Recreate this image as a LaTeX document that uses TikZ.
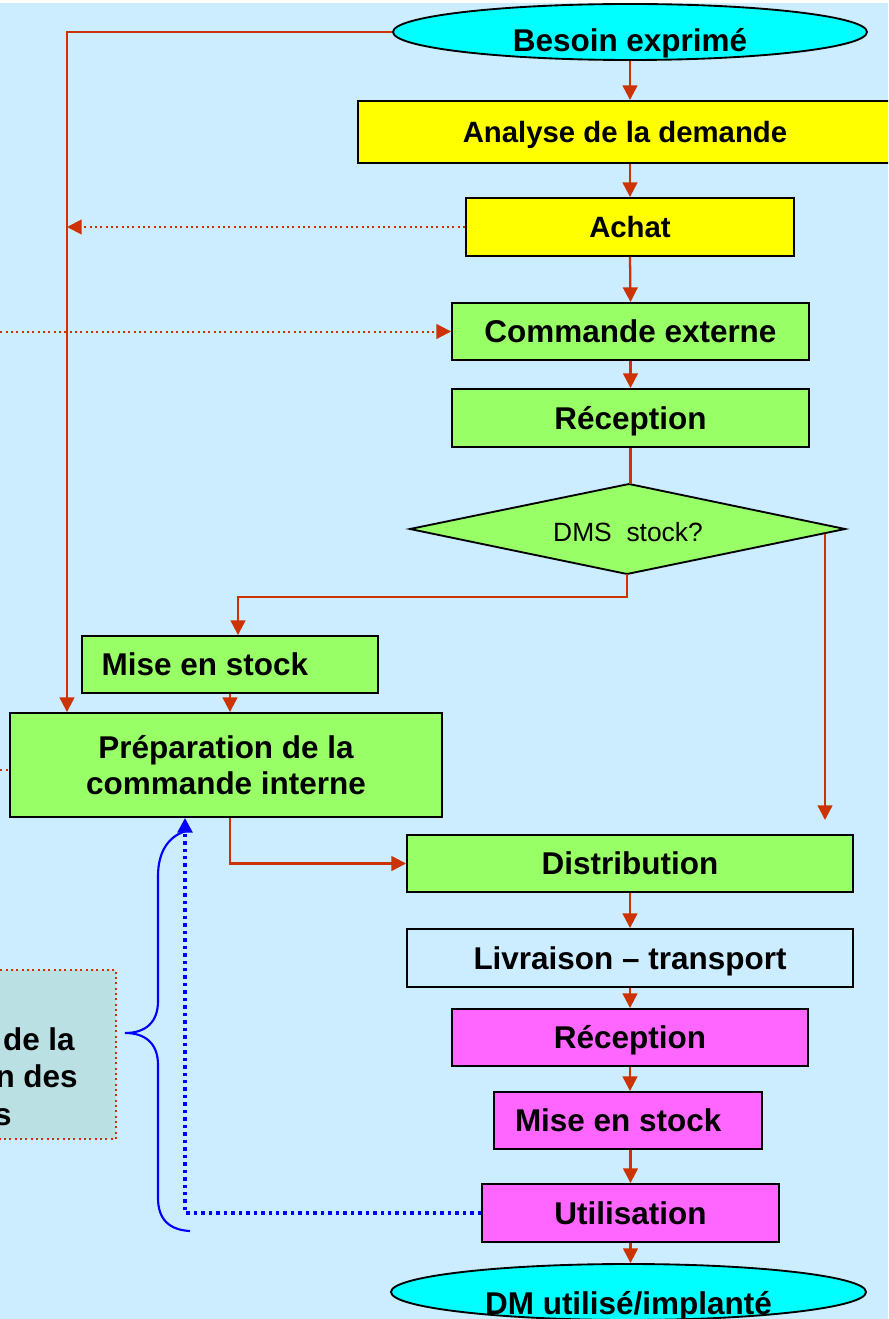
\documentclass[tikz,border=0pt]{standalone}
\usepackage{fontspec}
\setmainfont{Liberation Sans}
\usetikzlibrary{shapes.geometric,arrows.meta}
\definecolor{bgblue}{RGB}{204,236,255}
\definecolor{conn}{RGB}{204,51,0}
\definecolor{ylw}{RGB}{255,255,0}
\definecolor{grn}{RGB}{153,255,102}
\definecolor{cyn}{RGB}{0,255,255}
\definecolor{mag}{RGB}{255,102,255}
\definecolor{notebox}{RGB}{187,224,227}
\definecolor{blu}{RGB}{0,0,255}
\newcommand\fbig{\fontsize{23.6pt}{27pt}\selectfont\bfseries}
\newcommand\fmid{\fontsize{22pt}{26pt}\selectfont\bfseries}
\newcommand\fdms{\fontsize{19.8pt}{24pt}\selectfont}
\begin{document}
\begin{tikzpicture}[x=0.75pt,y=-0.75pt,
  box/.style={draw=black,line width=1.4pt,rectangle,inner sep=0pt,font=\fbig,text height=17pt,text depth=0pt},
  oval/.style={draw=black,line width=1.4pt,ellipse,inner sep=0pt,fill=cyn,font=\fbig},
  tipr/.style={-{Triangle[length=11pt,width=11pt]}},
  flow/.style={draw=conn,line width=1.7pt,tipr},
  link/.style={draw=conn,line width=1.7pt},
  dots/.style={draw=conn,line width=1.5pt,dash pattern=on 1.5pt off 2.5pt},
  dotflow/.style={dots,tipr},
  bluedots/.style={draw=blu,line width=2.6pt,dash pattern=on 2.6pt off 3pt,-{Triangle[length=11pt,width=11pt]}},
  frag/.style={font=\fbig,inner sep=0pt,anchor=base east}
]
\useasboundingbox (0,0) rectangle (888,1319);
\clip (0,0) rectangle (888,1319);
\fill[white] (0,0) rectangle (888,3);
\fill[bgblue] (0,3) rectangle (888,1319);

% lanes and free ends
\coordinate (laneA) at (67,0);
\coordinate (laneD) at (185,0);
\coordinate (jB) at (238,597);
\coordinate (dR) at (825,534);
\coordinate (dRe) at (825,820);
\coordinate (offA) at (-5,331.5);
\coordinate (offB) at (-5,770);
\coordinate (dmsW) at (410,529);
\coordinate (dmsN) at (629,484);
\coordinate (dmsE) at (845,529);
\coordinate (dmsS) at (627,574);

% nodes
\node[oval,minimum width=355.5pt,minimum height=42pt] (besoin) at (630,32) {\raisebox{-15pt}[0pt][0pt]{Besoin exprimé}};
\node[box,fill=ylw,minimum width=400.5pt,minimum height=46.5pt,font=\fmid,text height=15.8pt] (analyse) at (625,132) {Analyse de la demande};
\node[box,fill=ylw,minimum width=246pt,minimum height=43.5pt,font=\fmid,text height=15.8pt] (achat) at (630,227) {Achat};
\node[box,fill=grn,minimum width=267.75pt,minimum height=42.75pt] (commande) at (630.5,331.5) {Commande externe};
\node[box,fill=grn,minimum width=267.75pt,minimum height=43.5pt] (reception1) at (630.5,418) {Réception};
\filldraw[fill=grn,draw=black,line width=1.4pt,line join=miter] (dmsW) -- (dmsN) -- (dmsE) -- (dmsS) -- cycle;
\node[inner sep=0pt,font=\fdms,text height=14pt,text depth=0pt] (dms) at (628,532) {DMS\ \ stock?};
\node[box,fill=grn,minimum width=222pt,minimum height=42.75pt] (mise1) at (230,664.5) {\makebox[222pt][l]{\hspace{14.8pt}Mise en stock}};
\node[draw=black,line width=1.4pt,rectangle,inner sep=0pt,fill=grn,font=\fbig,align=center,minimum width=324pt,minimum height=78pt] (prep) at (226,765) {Préparation de la\\commande interne};
\node[box,fill=grn,minimum width=334.5pt,minimum height=42.75pt] (distribution) at (630,863.5) {Distribution};
\node[box,fill=bgblue,minimum width=334.5pt,minimum height=43.5pt] (livraison) at (630,958) {Livraison – transport};
\node[box,fill=mag,minimum width=267pt,minimum height=42.75pt] (reception2) at (630,1037.5) {Réception};
\node[box,fill=mag,minimum width=201pt,minimum height=42.75pt] (mise2) at (628,1120.5) {\makebox[201pt][l]{\hspace{15.75pt}Mise en stock}};
\node[box,fill=mag,minimum width=222.75pt,minimum height=43.5pt] (utilisation) at (630.5,1213) {Utilisation};
\node[oval,minimum width=356.25pt,minimum height=42pt] (dmutil) at (628.5,1292) {\raisebox{-16.5pt}[0pt][0pt]{DM utilisé/implanté}};

% note box (cut at the left edge)
\node[fill=notebox,draw=conn,line width=1.5pt,dash pattern=on 1.5pt off 2.5pt,minimum width=132pt,minimum height=126.75pt,inner sep=0pt] (note) at (28,1054.5) {};
\node[frag] (nt1) at (75,1050) {de la};
\node[frag] (nt2) at (78,1087.5) {n des};
\node[frag] (nt3) at (12,1125) {s};

% connectors
\draw[flow] (besoin.west) -| (laneA |- prep.north);
\draw[flow] (besoin.south) -- (besoin.south |- analyse.north);
\draw[flow] (analyse.south -| achat.north) -- (achat.north);
\draw[dotflow] (achat.west) -- (achat.west -| laneA);
\draw[flow] (achat.south) -- (commande.north);
\draw[dotflow] (offA) -- (commande.west);
\draw[flow] (commande.south) -- (reception1.north);
\draw[link] (reception1.south) -- (reception1.south |- dmsN);
\draw[flow] (dmsS) |- (jB) -- (jB |- mise1.north);
\draw[flow] (dR) -- (dRe);
\draw[flow] (mise1.south) -- (mise1.south |- prep.north);
\draw[dots] (offB) -- (offB -| prep.west);
\draw[flow] ([xshift=3pt]prep.south) |- (distribution.west);
\draw[flow] (distribution.south) -- (livraison.north);
\draw[flow] (livraison.south) -- (reception2.north);
\draw[flow] (reception2.south) -- (reception2.south |- mise2.north);
\draw[flow] (mise2.south -| utilisation.north) -- (utilisation.north);
\draw[flow] (utilisation.south) -- (utilisation.south |- dmutil.north);
\draw[bluedots] (utilisation.west) -- (laneD |- utilisation.west) -- (laneD |- prep.south);

% brace
\draw[blu,line width=1.6pt] (190,830) .. controls (170,834) and (158,850) .. (158,876) -- (158,1001)
  .. controls (158,1022) and (146,1033) .. (125,1033)
  .. controls (146,1033) and (158,1044) .. (158,1065) -- (158,1198)
  .. controls (158,1220) and (170,1230) .. (190,1231);
\end{tikzpicture}
\end{document}
